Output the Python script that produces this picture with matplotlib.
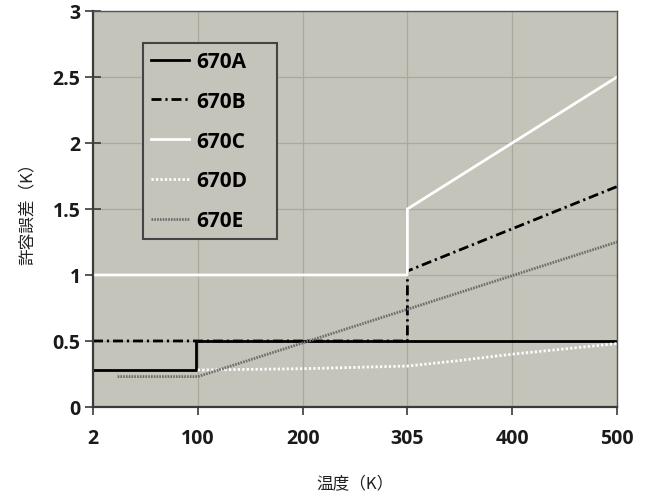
import numpy as np
import matplotlib
matplotlib.use("Agg")
import matplotlib.pyplot as plt

# --- data ---
x_ticks = [2, 100, 200, 305, 400, 500]
x_tick_labels = ["2", "100", "200", "305", "400", "500"]
y_ticks = [0, 0.5, 1, 1.5, 2, 2.5, 3]
y_tick_labels = ["0", "0.5", "1", "1.5", "2", "2.5", "3"]

a_x = [2, 98, 98, 500]
a_y = [0.28, 0.28, 0.5, 0.5]
b_x = [2, 305, 305, 500]
b_y = [0.5, 0.5, 1.03, 1.67]
c_x = [2, 305, 305, 500]
c_y = [1.0, 1.0, 1.5, 2.5]
d_x = [100, 200, 305, 350, 400, 450, 500]
d_y = [0.28, 0.29, 0.31, 0.35, 0.40, 0.44, 0.48]
e_x = [25, 100, 500]
e_y = [0.23, 0.23, 1.25]

labels = ["670A", "670B", "670C", "670D", "670E"]
xlabel = "温度（K）"
ylabel = "許容誤差（K）"

# --- figure ---
plt.rcParams['font.family'] = ['Open Sans', 'DejaVu Sans']
fig = plt.figure(figsize=(6.49, 5.02), dpi=100)
ax = fig.add_axes([0.1433, 0.1873, 0.8074, 0.7888])
ax.set_facecolor('#c4c4ba')

pos = np.arange(len(x_ticks), dtype=float)
kel = np.array(x_ticks, dtype=float)
def fwd(v):
    return np.interp(v, kel, pos)
def inv(p):
    return np.interp(p, pos, kel)
ax.set_xscale('function', functions=(fwd, inv))

ax.plot(a_x, a_y, color='black', lw=2.0, label=labels[0])
ax.plot(b_x, b_y, color='black', lw=2.0, dashes=(3.6, 1.4, 0.8, 1.4), label=labels[1])
ax.plot(c_x, c_y, color='white', lw=2.0, label=labels[2])
ax.plot(d_x, d_y, color='white', lw=2.0, dashes=(0.8, 0.8), label=labels[3])
ax.plot(e_x, e_y, color='#6e6e6e', lw=2.0, dashes=(0.6, 0.4), label=labels[4])

ax.set_xlim(2, 500)
ax.set_ylim(0, 3)
ax.set_xticks(x_ticks)
ax.set_xticklabels(x_tick_labels)
ax.set_yticks(y_ticks)
ax.set_yticklabels(y_tick_labels)
ax.minorticks_off()

ax.grid(True, color='#aaa99d', lw=0.9)
ax.set_axisbelow(True)

for s in ['left', 'bottom']:
    ax.spines[s].set_color('#3a3a3a')
    ax.spines[s].set_linewidth(1.6)
for s in ['top', 'right']:
    ax.spines[s].set_color('#555555')
    ax.spines[s].set_linewidth(1.0)

ax.tick_params(axis='x', direction='out', length=6, width=1.2, color='#3a3a3a',
               pad=9, labelsize=14, labelcolor='#1a1a1a')
ax.tick_params(axis='y', direction='inout', length=12, width=1.2, color='#3a3a3a',
               pad=3, labelsize=14, labelcolor='#1a1a1a')
for t in ax.get_xticklabels() + ax.get_yticklabels():
    t.set_fontweight('bold')

cjk = ['Noto Sans CJK JP', 'DejaVu Sans']
ax.set_xlabel(xlabel, family=cjk, fontsize=12, labelpad=20, color='#222222')
ax.set_ylabel(ylabel, family=cjk, fontsize=12, labelpad=12, color='#222222')

leg = ax.legend(loc='upper left', bbox_to_anchor=(0.095, 0.43, 0.256, 0.49),
                mode='expand', borderaxespad=0,
                labelspacing=0.9, handlelength=1.8, handletextpad=0.35,
                borderpad=0.4, fancybox=False, framealpha=1,
                facecolor='#c4c4ba', edgecolor='#444444',
                prop={'weight': 'bold', 'size': 15})
leg.get_frame().set_linewidth(1.5)

fig.savefig('out.png', dpi=100, facecolor='white')
